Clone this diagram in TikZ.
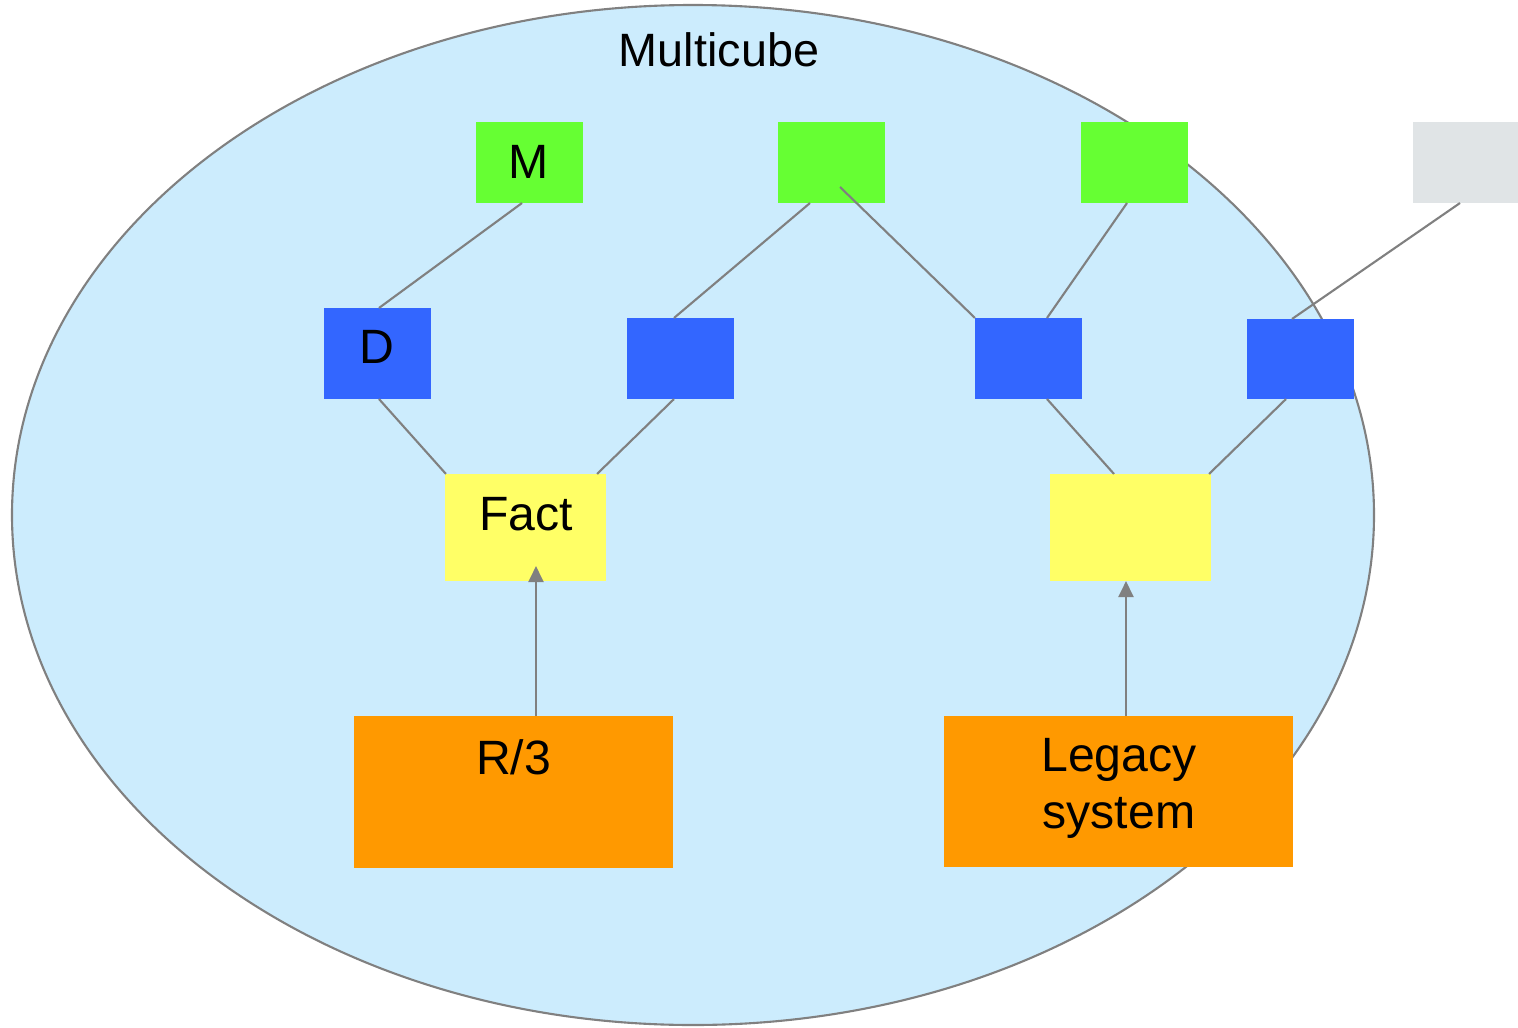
\documentclass[tikz,border=0pt]{standalone}
\usepackage{fontspec}
\setmainfont{Liberation Sans}
\usetikzlibrary{positioning,calc,arrows.meta}
\definecolor{cubefill}{HTML}{CCECFD}
\definecolor{cubeline}{HTML}{808080}
\definecolor{mgreen}{HTML}{66FF33}
\definecolor{dblue}{HTML}{3366FF}
\definecolor{fyellow}{HTML}{FFFF66}
\definecolor{sorange}{HTML}{FF9900}
\definecolor{mgray}{HTML}{E0E4E6}
\tikzset{
	box/.style={inner sep=0pt, outer sep=0pt, minimum width=1.07cm, minimum height=0.81cm},
	measure/.style={box, fill=mgreen},
	dim/.style={box, fill=dblue},
	fact/.style={box, fill=fyellow, minimum width=1.61cm, minimum height=1.07cm},
	source/.style={box, fill=sorange, minimum height=1.52cm},
	lbl/.style={inner sep=0pt, anchor=north, align=center, font=\fontsize{13.7}{16.1}\selectfont},
	link/.style={draw=cubeline, line width=0.6pt},
	feed/.style={link, -{Triangle[length=0.16cm,width=0.15cm]}}
}

\begin{document}
\begin{tikzpicture}[x=0.01cm,y=-0.01cm]
\useasboundingbox (0,0) rectangle (1518,1027);

%Multicube
\filldraw[fill=cubefill, draw=cubeline, line width=0.6pt] (693,515) ellipse [x radius=681, y radius=510];
\node[lbl, font=\fontsize{13.3}{16}\selectfont] (title) at (719,32) {Multicube};

%Kennzahlen
\node[measure] (m1) at (529.5,162.5) {};
\node[measure] (m2) at (831.5,162.5) {};
\node[measure] (m3) at (1134.5,162.5) {};
\node[box, fill=mgray, minimum width=1.05cm] (m4) at (1465.5,162.5) {};

%Dimensionen
\node[dim, minimum height=0.91cm] (d1) at (377.5,353.5) {};
\node[dim] (d2) at (680.5,358.5) {};
\node[dim] (d3) at (1028.5,358.5) {};
\node[dim, minimum height=0.80cm] (d4) at (1300.5,359) {};

%Fakten
\node[fact] (f1) at (525.5,527.5) {};
\node[fact] (f2) at (1130.5,527.5) {};

%Quellen
\node[source, minimum width=3.19cm] (r1) at (513.5,792) {};
\node[source, minimum width=3.49cm, minimum height=1.51cm] (r2) at (1118.5,791.5) {};

%Beschriftungen
\node[lbl] (mlbl) at ($(m1.north)+(-1,22.5)$) {M};
\node[lbl] (dlbl) at ($(d1.north)+(-0.5,22)$) {D};
\node[lbl] (flbl) at ($(f1.north)+(0.5,22.5)$) {Fact};
\node[lbl] (rlbl) at ($(r1.north)+(0,22.5)$) {R/3};
\node[lbl] (llbl) at ($(r2.north)+(0.5,22)$) {Legacy\\system};

%Verbindungen
\draw[link] ($(m1.south)+(-7.5,0)$) -- ($(d1.north)+(1.5,0)$);
\draw[link] ($(m2.south)+(-21.5,0)$) -- ($(d2.north)+(-6.5,0)$);
\draw[link] ($(m2.center)+(8.5,24.5)$) -- (d3.north west);
\draw[link] ($(m3.south)+(-7.5,0)$) -- ($(d3.north)+(18.5,0)$);
\draw[link] ($(m4.south)+(-5.5,0)$) -- ($(d4.north)+(-8.5,0)$);
\draw[link] ($(d1.south)+(1.5,0)$) -- ($(f1.north west)+(1,0)$);
\draw[link] ($(d2.south)+(-6.5,0)$) -- ($(f1.north east)+(-9,0)$);
\draw[link] ($(d3.south)+(18.5,0)$) -- ($(f2.north)+(-16.5,0)$);
\draw[link] ($(d4.south)+(-14.5,0)$) -- ($(f2.north east)+(-2,0)$);

%Datenfluss
\draw[feed] ($(r1.north)+(22.5,0)$) -- ($(f1.south)+(10.5,-15)$);
\draw[feed] ($(r2.north)+(7.5,0)$) -- ($(f2.south)+(-4.5,0)$);
\end{tikzpicture}
\end{document}
